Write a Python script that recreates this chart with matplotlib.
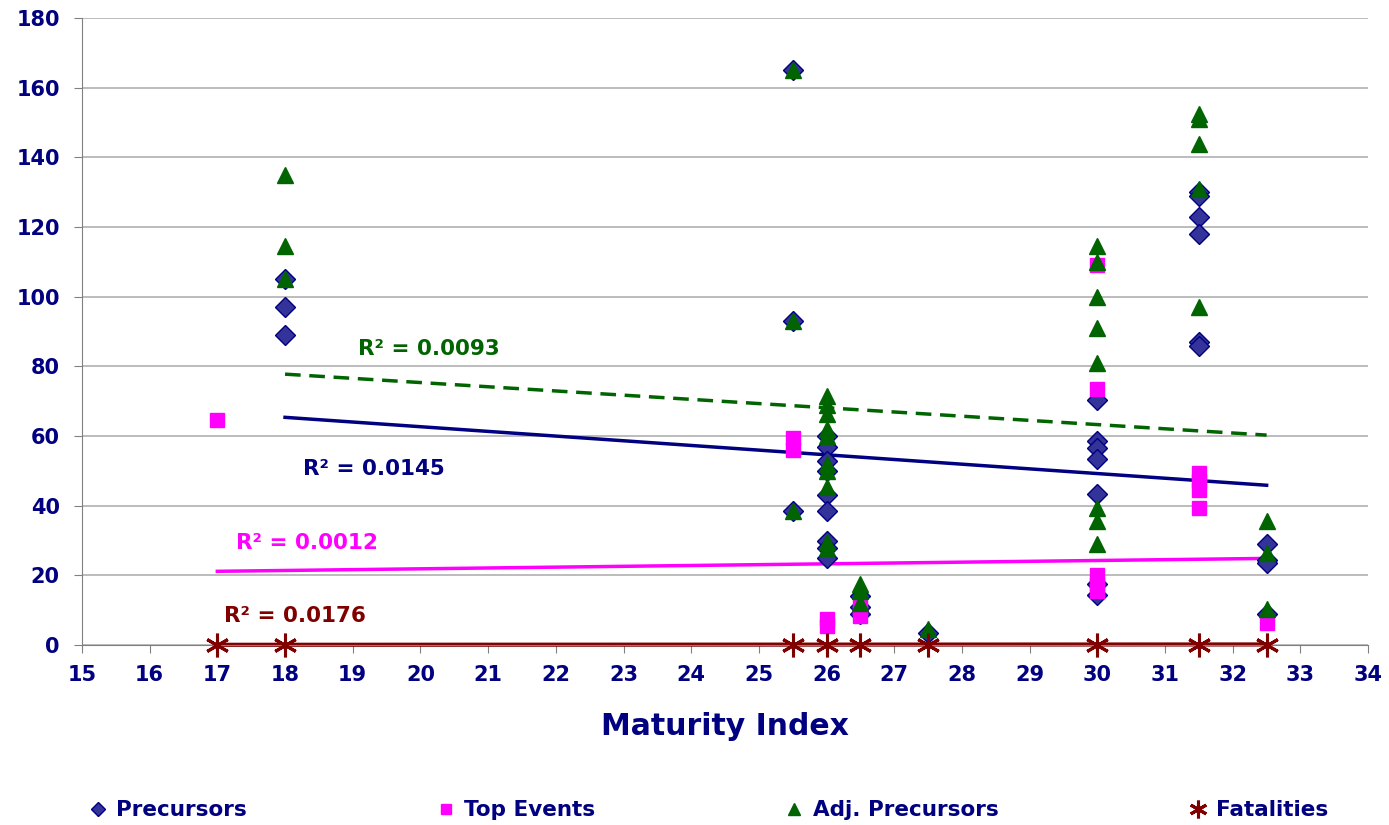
import matplotlib
matplotlib.use('Agg')
import matplotlib.pyplot as plt

# Precursors
prec_x = [18, 18, 18, 25.5, 25.5, 25.5,
          26, 26, 26, 26, 26, 26, 26, 26, 26,
          26.5, 26.5, 26.5, 27.5,
          30, 30, 30, 30, 30, 30, 30,
          31.5, 31.5, 31.5, 31.5, 31.5, 31.5,
          32.5, 32.5, 32.5, 32.5]
prec_y = [105, 97, 89, 165, 93, 38.5,
          60, 57, 53, 50, 43, 38.5, 30, 28, 25,
          14, 11, 9, 3.5,
          70.5, 58.5, 56.5, 53.5, 43.5, 17.5, 14.5,
          130, 129, 123, 118, 87, 86,
          29, 24.5, 23.5, 9]

# Top events
top_x = [17, 25.5, 25.5, 26, 26, 26.5, 26.5,
         30, 30, 30, 30, 30, 31.5, 31.5, 31.5, 31.5, 32.5]
top_y = [64.5, 59.5, 56, 7.5, 5.5, 11, 8.5,
         109, 73.5, 20, 17.5, 15.5, 49.5, 47, 44.5, 39.5, 6.5]

# Adj. precursors
adj_x = [18, 18, 18, 25.5, 25.5, 25.5,
         26, 26, 26, 26, 26, 26, 26, 26, 26, 26,
         26.5, 26.5, 26.5, 27.5,
         30, 30, 30, 30, 30, 30, 30, 30,
         31.5, 31.5, 31.5, 31.5, 31.5,
         32.5, 32.5, 32.5]
adj_y = [135, 114.5, 105, 165, 93, 38.5,
         71.5, 69, 66.5, 62, 60, 52, 50, 45.5, 29.5, 28,
         17.5, 15.5, 12, 4.5,
         114.5, 110, 100, 91, 81, 39.5, 35.5, 29,
         152.5, 151, 144, 131, 97,
         35.5, 26.5, 10.5]

# Fatalities
fat_x = [17, 18, 25.5, 26, 26.5, 27.5, 30, 31.5, 32.5]
fat_y = [0, 0, 0, 0, 0, 0, 0, 0, 0]

# linear trend line values at the first / last x
prec_trend = [65.4, 45.9]
top_trend = [21.2, 24.9]
adj_trend = [77.8, 60.3]
fat_trend = [0.1, 0.2]
r2_labels = ['0.0145', '0.0012', '0.0093', '0.0176']

navy = '#000080'
fig = plt.figure(figsize=(13.89, 8.25), dpi=100)
ax = fig.add_axes([0.059, 0.218, 0.926, 0.76])

ax.plot(prec_x, prec_y, 'D', color='#333399', mec=navy, ms=10, mew=1,
        label='Precursors', zorder=3)
ax.plot(top_x, top_y, 's', color='#FF00FF', mec='#FF00FF', ms=9.5,
        label='Top Events', zorder=3)
ax.plot(adj_x, adj_y, '^', color='#006400', mec='#006400', ms=12,
        label='Adj. Precursors', zorder=4)
ax.plot(fat_x, fat_y, marker=(6, 2, 0), ls='none', color='#800000', mec='#800000',
        ms=17, mew=2.2, label='Fatalities', zorder=5, clip_on=False)

# trend lines
ax.plot([min(prec_x), max(prec_x)], prec_trend, color=navy, lw=2.5, zorder=2)
ax.plot([min(top_x), max(top_x)], top_trend, color='#FF00FF', lw=2.5, zorder=2)
ax.plot([min(adj_x), max(adj_x)], adj_trend, color='#006400', lw=2.5,
        ls=(0, (4.5, 2.5)), zorder=2)
ax.plot([min(fat_x), max(fat_x)], fat_trend, color='#800000', lw=3, zorder=2,
        clip_on=False)

tk = dict(fontsize=15.5, fontweight='bold', ha='left', va='center')
ax.text(18.27, 50.5, 'R\u00b2 = ' + r2_labels[0], color=navy, **tk)
ax.text(17.28, 29.3, 'R\u00b2 = ' + r2_labels[1], color='#FF00FF', **tk)
ax.text(19.08, 85, 'R\u00b2 = ' + r2_labels[2], color='#006400', **tk)
ax.text(17.1, 8.3, 'R\u00b2 = ' + r2_labels[3], color='#800000', **tk)

ax.set_xlim(15, 34)
ax.set_ylim(0, 180)
ax.set_xticks(range(15, 35))
ax.set_yticks(range(0, 181, 20))
ax.grid(axis='y', color='#b0b0b0', lw=1.2)
ax.set_axisbelow(True)
for s in ['top', 'right']:
    ax.spines[s].set_visible(False)
for s in ['left', 'bottom']:
    ax.spines[s].set_color('#808080')
ax.tick_params(colors='#808080', length=6, labelcolor=navy, labelsize=15)
ax.tick_params(axis='y', pad=10)
ax.tick_params(axis='x', pad=8)
for lab in ax.get_xticklabels() + ax.get_yticklabels():
    lab.set_fontweight('bold')

ax.set_xlabel('Maturity Index', fontsize=21.5, fontweight='bold', color=navy, labelpad=20)

fig.legend(loc='center', bbox_to_anchor=(0.509, 0.018), ncol=4, frameon=False,
           columnspacing=8.7, handletextpad=0.3, handlelength=1.1,
           prop={'size': 15.5, 'weight': 'bold'}, labelcolor=navy,
           markerscale=0.75)

fig.savefig('out.png', dpi=100)
